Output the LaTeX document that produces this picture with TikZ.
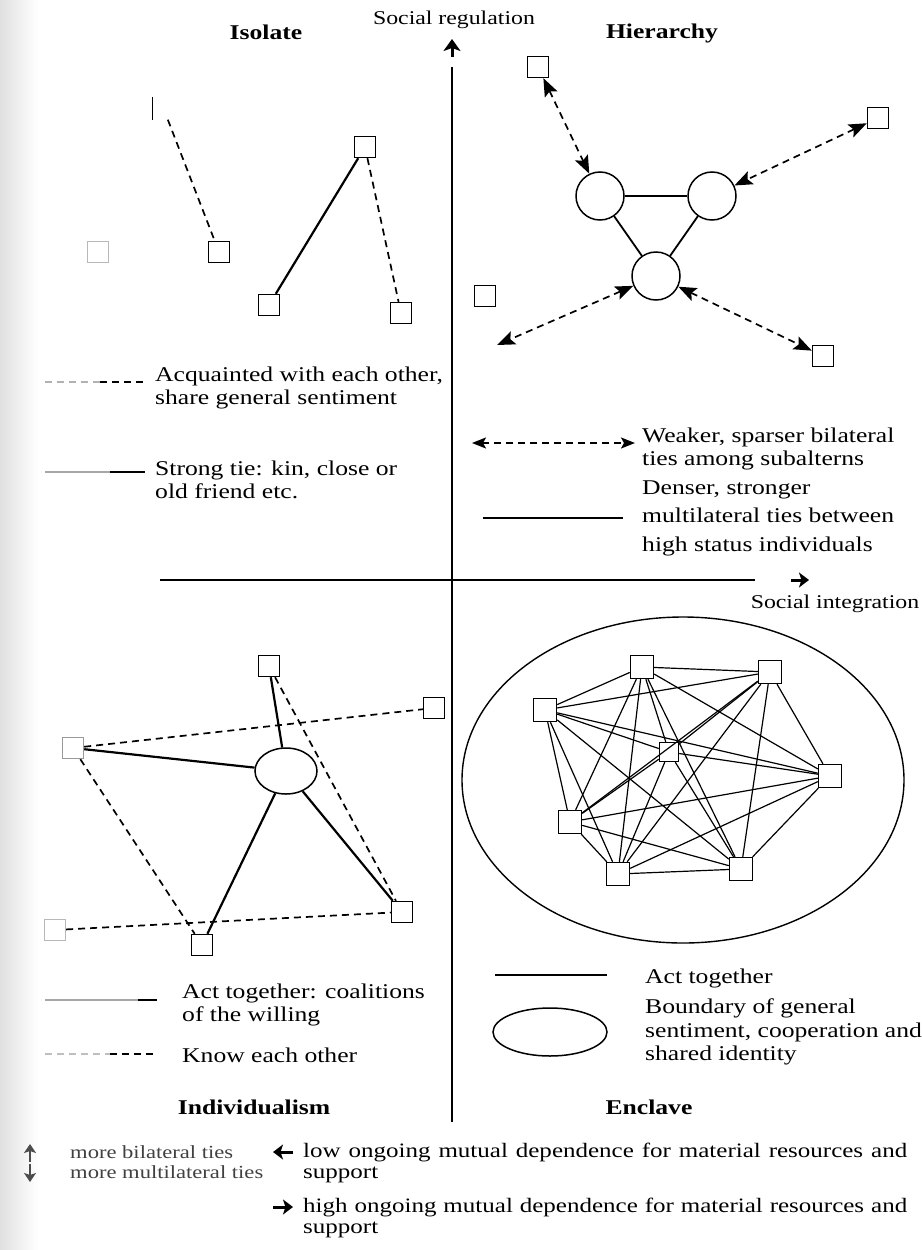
\documentclass[tikz,border=0pt]{standalone}
\usepackage{fontspec}
\setmainfont{Liberation Serif}[FakeStretch=1.22]
\usetikzlibrary{arrows.meta,shapes.geometric}
\tikzset{
  sq/.style={draw, line width=1.4pt, minimum size=21pt, inner sep=0pt},
  fsq/.style={sq, draw=black!28},
  esq/.style={draw, line width=1.4pt, minimum size=23pt, inner sep=0pt},
  hub/.style={draw, circle, line width=1.5pt, minimum size=48pt, inner sep=0pt},
  tie/.style={line width=2.2pt},
  weak/.style={line width=1.7pt, dash pattern=on 7pt off 5pt},
  tip/.tip={Stealth[length=18pt,width=14pt,inset=3.5pt]},
  bi/.style={weak, tip-tip},
  net/.style={line width=1.2pt},
  axis/.style={line width=2pt},
  lbl/.style={anchor=west, inner sep=0pt, align=left, font=\fontsize{21}{23.5}\selectfont},
  ttl/.style={inner sep=0pt, font=\fontsize{21}{23}\selectfont\bfseries},
  axl/.style={inner sep=0pt, font=\fontsize{19.5}{22}\selectfont},
  key/.style={anchor=west, inner sep=0pt, text=black!75, font=\fontsize{18.5}{21}\selectfont},
  dep/.style={anchor=west, inner sep=0pt, align=left, font=\fontsize{20.5}{21}\selectfont},
  glyph/.style={line width=3pt, -{Stealth[length=10pt,width=15pt,inset=2.5pt]}},
}
\begin{document}
\begin{tikzpicture}[x=1pt,y=-1pt]
\useasboundingbox (0,0) rectangle (921,1250);
\shade[left color=black!12,right color=white] (0,0) rectangle (38,1250);

% ---------- axes ----------
\coordinate (vtop) at (452,67);
\coordinate (vbot) at (452,1122);
\coordinate (hleft) at (160,580);
\coordinate (hright) at (755,580);
\draw[axis] (vtop) -- (vbot);
\draw[axis] (hleft) -- (hright);
\coordinate (uaA) at (452,57);
\coordinate (uaB) at (452,39);
\draw[glyph, -{Stealth[length=12pt,width=17pt,inset=3pt]}] (uaA) -- (uaB);
\coordinate (raA) at (791,580);
\coordinate (raB) at (809,580);
\draw[glyph] (raA) -- (raB);
\node[axl] (ylab) at (454,20) {Social regulation};
\node[axl] (xlab) at (835,604) {Social integration};

% ---------- titles ----------
\node[ttl] (tIso) at (266,32) {Isolate};
\node[ttl] (tHie) at (662,33) {Hierarchy};
\node[ttl] (tInd) at (254,1107) {Individualism};
\node[ttl] (tEnc) at (649,1107) {Enclave};

% ---------- Isolate ----------
\node[sq, draw=none] (i0) at (163.5,108.5) {};
\draw[line width=1.3pt] (i0.north west) -- (i0.south west);
\node[sq] (i1) at (219,252) {};
\node[fsq] (iL) at (98,252) {};
\node[sq] (i2) at (269,305) {};
\node[sq] (i3) at (365,147) {};
\node[sq] (i4) at (401,313) {};
\draw[weak] (i0) -- (i1);
\draw[tie] (i2) -- (i3);
\draw[weak] (i3) -- (i4);

% legend isolate
\coordinate (la1) at (45,382); \coordinate (la2) at (100,382); \coordinate (la3) at (145,382);
\draw[weak, draw=black!30] (la1) -- (la2);
\draw[weak] (la2) -- (la3);
\node[lbl] (lAcq) at (155,388) {Acquainted with each other,\\share general sentiment};
\coordinate (lb1) at (45,472); \coordinate (lb2) at (110,472); \coordinate (lb3) at (145,472);
\draw[tie, draw=black!35] (lb1) -- (lb2);
\draw[tie] (lb2) -- (lb3);
\node[lbl] (lStr) at (155,480) {Strong tie: kin, close or\\old friend etc.};

% ---------- Hierarchy ----------
\node[sq] (h1) at (538,67) {};
\node[sq] (h2) at (878,118) {};
\node[sq] (hL) at (485,296) {};
\node[sq] (h4) at (823,356) {};
\node[hub] (c1) at (600,196) {};
\node[hub] (c2) at (712,196) {};
\node[hub] (c3) at (656,276) {};
\coordinate (hf) at (497,345);
\draw[tie, line width=1.8pt] (c1) -- (c2);
\draw[tie, line width=1.8pt] (c1) -- (c3);
\draw[tie, line width=1.8pt] (c2) -- (c3);
\draw[bi] (h1) -- (c1);
\draw[bi] (h2) -- (c2);
\draw[bi] (c3) -- (hf);
\draw[bi] (c3) -- (h4);

% legend hierarchy
\coordinate (lc1) at (472,443); \coordinate (lc2) at (635,443);
\draw[bi, {Stealth[length=14pt,width=11pt,inset=3pt]}-{Stealth[length=14pt,width=11pt,inset=3pt]}] (lc1) -- (lc2);
\node[lbl] (lWeak) at (642,449) {Weaker, sparser bilateral\\ties among subalterns};
\coordinate (ld1) at (483,518); \coordinate (ld2) at (623,518);
\draw[tie, line width=1.8pt] (ld1) -- (ld2);
\node[lbl, font=\fontsize{21}{28.5}\selectfont] (lDen) at (642,518) {Denser, stronger\\multilateral ties between\\high status individuals};

% ---------- Individualism ----------
\node[sq] (t) at (269,666) {};
\node[sq] (r) at (434,708) {};
\node[fsq, draw=black!40] (l) at (73,748) {};
\node[draw, ellipse, line width=1.5pt, minimum width=62pt, minimum height=46pt, inner sep=0pt] (e) at (286,771) {};
\node[fsq] (fl) at (55,930) {};
\node[sq] (b) at (202,945) {};
\node[sq] (rb) at (402,912) {};
\draw[tie] (t) -- (e);
\draw[tie] (l) -- (e);
\draw[tie] (e) -- (b);
\draw[tie] (e) -- (rb);
\draw[weak] (t) -- (rb);
\draw[weak] (l) -- (r);
\draw[weak] (l) -- (b);
\draw[weak] (fl) -- (rb);

% legend individualism
\coordinate (le1) at (45,1000); \coordinate (le2) at (138,1000); \coordinate (le3) at (157,1000);
\draw[tie, draw=black!35] (le1) -- (le2);
\draw[tie] (le2) -- (le3);
\node[lbl] (lAct) at (182,1005) {Act together: coalitions\\of the willing};
\coordinate (lf1) at (45,1054); \coordinate (lf2) at (110,1054); \coordinate (lf3) at (157,1054);
\draw[weak, draw=black!25] (lf1) -- (lf2);
\draw[weak] (lf2) -- (lf3);
\node[lbl] (lKnow) at (182,1055) {Know each other};

% ---------- Enclave ----------
\node[draw, ellipse, line width=1.4pt, minimum width=442pt, minimum height=326pt, inner sep=0pt] (bound) at (683,780) {};
\node[esq] (n1) at (642,667) {};
\node[esq] (n2) at (770,672) {};
\node[esq] (n3) at (545,710) {};
\node[esq, minimum size=19pt] (n4) at (669,752) {};
\node[esq] (n5) at (830,776) {};
\node[esq] (n6) at (570,822) {};
\node[esq] (n7) at (618,874) {};
\node[esq] (n8) at (741,869) {};
\foreach \i in {1,...,7}{
  \pgfmathtruncatemacro{\jn}{\i+1}
  \foreach \k in {\jn,...,8}{ \draw[net] (n\i) -- (n\k); }
}

% legend enclave
\coordinate (lg1) at (495,975); \coordinate (lg2) at (607,975);
\draw[tie, line width=1.8pt] (lg1) -- (lg2);
\node[lbl] (lAct2) at (645,978) {Act together};
\node[draw, ellipse, line width=1.5pt, minimum width=114pt, minimum height=48pt, inner sep=0pt] (lell) at (550,1032) {};
\node[lbl] (lBound) at (645,1032) {Boundary of general\\sentiment, cooperation and\\shared identity};

% ---------- bottom key ----------
\coordinate (ku1) at (30,1162); \coordinate (ku2) at (30,1144);
\draw[glyph, black!70, line width=2.6pt, -{Stealth[length=9pt,width=12pt,inset=2pt]}] (ku1) -- (ku2);
\coordinate (kd1) at (30,1164); \coordinate (kd2) at (30,1182);
\draw[glyph, black!70, line width=2.6pt, -{Stealth[length=9pt,width=12pt,inset=2pt]}] (kd1) -- (kd2);
\node[key] (kBi) at (70,1152) {more bilateral ties};
\node[key] (kMu) at (70,1172) {more multilateral ties};
\coordinate (kl1) at (293,1152); \coordinate (kl2) at (273,1152);
\draw[glyph] (kl1) -- (kl2);
\coordinate (kr1) at (273,1207); \coordinate (kr2) at (293,1207);
\draw[glyph] (kr1) -- (kr2);
\node[dep] (dLow) at (303,1163) {\makebox[604pt][s]{low ongoing mutual dependence for material resources and}\\support};
\node[dep] (dHigh) at (303,1218) {\makebox[604pt][s]{high ongoing mutual dependence for material resources and}\\support};
\end{tikzpicture}
\end{document}
